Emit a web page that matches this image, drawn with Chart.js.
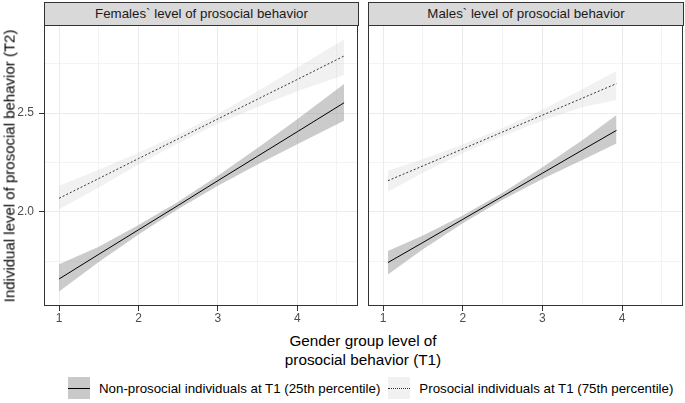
<!DOCTYPE html>
<html>
<head>
<meta charset="utf-8">
<script src="https://cdn.jsdelivr.net/npm/chart.js@4.4.0/dist/chart.umd.min.js"></script>
<style>
  body { margin: 0; width: 685px; height: 403px; background: #fff; position: relative; overflow: hidden;
         font-family: "Liberation Sans", Arial, sans-serif; }
  canvas { position: absolute; }
  .strip { position: absolute; top: 2px; height: 24px; box-sizing: border-box; border: 1px solid #333;
           background: #d9d9d9; color: #1a1a1a; font-size: 13.3px; line-height: 22px; text-align: center; }
  .ytitle { position: absolute; left: 9px; top: 166px; transform: translate(-50%, -50%) rotate(-90deg);
            white-space: nowrap; font-size: 15px; color: #000; }
  .xtitle { position: absolute; left: 363px; top: 331px; transform: translateX(-50%); text-align: center;
            font-size: 15.3px; line-height: 19px; color: #000; white-space: nowrap; }
  .legend { position: absolute; top: 377px; left: 68px; height: 22px; display: flex; align-items: center;
            font-size: 13.3px; color: #000; white-space: nowrap; }
  .key { width: 22px; height: 22px; position: relative; margin-right: 9px; }
  .key span { position: absolute; left: 0; right: 0; top: 11px; }
</style>
</head>
<body>
<canvas id="left" width="360" height="305" style="left:0;top:25px"></canvas>
<canvas id="right" width="325" height="305" style="left:360px;top:25px"></canvas>
<div class="strip" style="left:44px;width:315px">Females` level of prosocial behavior</div>
<div class="strip" style="left:368px;width:316px">Males` level of prosocial behavior</div>
<div class="ytitle">Individual level of prosocial behavior (T2)</div>
<div class="xtitle">Gender group level of<br>prosocial behavior (T1)</div>
<div class="legend">
  <div class="key" style="background:#c9c9c9"><span style="border-top:1px solid #000"></span></div>
  <div style="margin-right:8px">Non-prosocial individuals at T1 (25th percentile)</div>
  <div class="key" style="background:#f1f1f1"><span style="border-top:1px dotted #333"></span></div>
  <div>Prosocial individuals at T1 (75th percentile)</div>
</div>
<script>
// axis grid and labels
const xGrid = [1, 1.5, 2, 2.5, 3, 3.5, 4, 4.5];
const xTickLabels = ['1', '', '2', '', '3', '', '4', ''];
const yGrid = [1.75, 2, 2.25, 2.5, 2.75];
const yTickLabels = ['', '2.0', '', '2.5', ''];

// females panel
const femX = [1, 1.5, 2, 2.5, 3, 3.5, 4, 4.59];
const femNon = [1.659, 1.784, 1.908, 2.032, 2.157, 2.281, 2.405, 2.552];
const femNonLow = [1.595, 1.745, 1.884, 2.014, 2.132, 2.239, 2.342, 2.461];
const femNonHigh = [1.733, 1.822, 1.932, 2.050, 2.182, 2.323, 2.468, 2.647];
const femPro = [2.068, 2.168, 2.269, 2.369, 2.470, 2.570, 2.670, 2.789];
const femProLow = [2.012, 2.123, 2.239, 2.347, 2.445, 2.530, 2.610, 2.693];
const femProHigh = [2.132, 2.213, 2.299, 2.391, 2.495, 2.610, 2.730, 2.873];

// males panel
const malX = [1.06, 1.5, 2, 2.5, 3, 3.5, 3.93];
const malNon = [1.742, 1.844, 1.961, 2.078, 2.195, 2.312, 2.412];
const malNonLow = [1.682, 1.809, 1.941, 2.060, 2.165, 2.262, 2.346];
const malNonHigh = [1.801, 1.879, 1.981, 2.096, 2.225, 2.362, 2.490];
const malPro = [2.157, 2.232, 2.318, 2.404, 2.489, 2.575, 2.649];
const malProLow = [2.101, 2.197, 2.296, 2.384, 2.461, 2.530, 2.566];
const malProHigh = [2.208, 2.267, 2.340, 2.424, 2.517, 2.620, 2.713];

function pts(xs, ys) {
  return xs.map((x, i) => ({ x: x, y: ys[i] }));
}

const panelBorder = {
  id: 'panelBorder',
  afterDraw(chart) {
    const a = chart.chartArea;
    const ctx = chart.ctx;
    ctx.save();
    ctx.strokeStyle = '#333';
    ctx.lineWidth = 1;
    ctx.strokeRect(a.left + 0.5, a.top + 0.5, a.right - a.left - 1, a.bottom - a.top - 1);
    ctx.restore();
  }
};

function makePanel(id, xs, non, nonLow, nonHigh, pro, proLow, proHigh, showY) {
  const band = { borderWidth: 0, pointRadius: 0, order: 1 };
  new Chart(document.getElementById(id), {
    type: 'line',
    data: {
      datasets: [
        { ...band, data: pts(xs, proLow), fill: false },
        { ...band, data: pts(xs, proHigh), fill: '-1', backgroundColor: 'rgba(190,190,190,0.22)' },
        { ...band, data: pts(xs, nonLow), fill: false },
        { ...band, data: pts(xs, nonHigh), fill: '-1', backgroundColor: 'rgba(140,140,140,0.45)' },
        { data: pts(xs, pro), borderColor: '#333', borderWidth: 1, borderDash: [2, 2], pointRadius: 0, fill: false, order: 0 },
        { data: pts(xs, non), borderColor: '#000', borderWidth: 1, pointRadius: 0, fill: false, order: 0 }
      ]
    },
    options: {
      responsive: false,
      animation: false,
      layout: { padding: { left: 0, right: 2, top: 0, bottom: 0 } },
      plugins: { legend: { display: false }, tooltip: { enabled: false } },
      scales: {
        x: {
          type: 'linear', min: 0.81, max: 4.765,
          afterBuildTicks: s => { s.ticks = xGrid.map(v => ({ value: v })); },
          afterFit: s => { s.height = 24; s.paddingLeft = 0; s.paddingRight = 0; },
          ticks: { autoSkip: false, maxRotation: 0, padding: 0, color: '#4d4d4d',
                   font: { family: 'Liberation Sans', size: 12 },
                   callback: (v, i) => xTickLabels[i] },
          grid: { color: '#ebebeb', lineWidth: c => (c.tick && c.tick.label ? 1 : 0.6),
                  tickLength: 5, tickWidth: 1,
                  tickColor: c => (c.tick && c.tick.label ? '#333' : 'rgba(0,0,0,0)') },
          border: { display: false }
        },
        y: {
          type: 'linear', min: 1.522, max: 2.946,
          afterBuildTicks: s => { s.ticks = yGrid.map(v => ({ value: v })); },
          afterFit: s => { s.width = showY ? 44 : 8; s.paddingTop = 0; s.paddingBottom = 0; },
          ticks: { display: showY, padding: 5, color: '#4d4d4d',
                   font: { family: 'Liberation Sans', size: 12 },
                   callback: (v, i) => yTickLabels[i] },
          grid: { color: '#ebebeb', lineWidth: c => (c.tick && c.tick.label ? 1 : 0.6),
                  drawTicks: showY, tickLength: 5, tickWidth: 1,
                  tickColor: c => (c.tick && c.tick.label ? '#333' : 'rgba(0,0,0,0)') },
          border: { display: false }
        }
      }
    },
    plugins: [panelBorder]
  });
}

makePanel('left', femX, femNon, femNonLow, femNonHigh, femPro, femProLow, femProHigh, true);
makePanel('right', malX, malNon, malNonLow, malNonHigh, malPro, malProLow, malProHigh, false);
</script>
</body>
</html>
